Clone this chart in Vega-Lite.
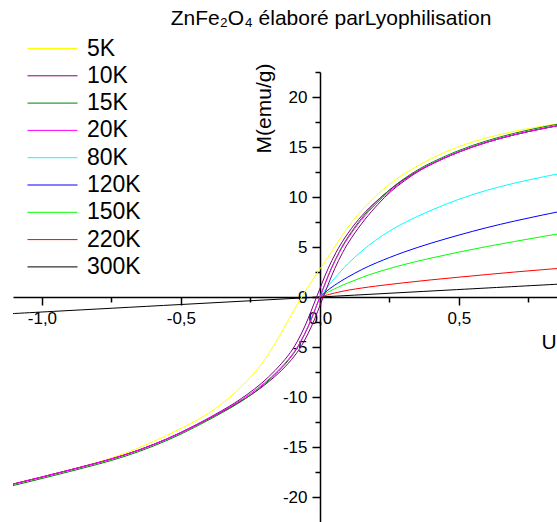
{
  "$schema": "https://vega.github.io/schema/vega-lite/v6.json",
  "width": 544,
  "height": 450,
  "autosize": {"type": "none"},
  "padding": {"left": 13, "top": 72, "right": 0, "bottom": 0},
  "background": "white",
  "config": {"view": {"stroke": null}, "axis": {"grid": false}},
  "title": {"text": "ZnFe₂O₄ élaboré parLyophilisation", "font": "Liberation Sans", "fontSize": 21, "fontWeight": "normal", "color": "black", "frame": "group", "anchor": "middle", "dx": 46, "offset": 8},
  "resolve": {"axis": {"x": "independent", "y": "independent"}},
  "layer": [
    {
      "data": {"values": [
        {"T":"300K","H":-1.25,"M":-1.88},{"T":"300K","H":-1.0,"M":-1.5},{"T":"300K","H":-0.5,"M":-0.75},{"T":"300K","H":0,"M":0},{"T":"300K","H":0.5,"M":0.75},{"T":"300K","H":0.95,"M":1.42},
        {"T":"220K","H":0,"M":0},{"T":"220K","H":0.02,"M":0.16},{"T":"220K","H":0.05,"M":0.38},{"T":"220K","H":0.1,"M":0.7},{"T":"220K","H":0.2,"M":1.1},{"T":"220K","H":0.3,"M":1.42},{"T":"220K","H":0.4,"M":1.72},{"T":"220K","H":0.5,"M":1.98},{"T":"220K","H":0.6,"M":2.25},{"T":"220K","H":0.7,"M":2.5},{"T":"220K","H":0.8,"M":2.73},{"T":"220K","H":0.9,"M":2.95},{"T":"220K","H":0.95,"M":3.05},
        {"T":"150K","H":0,"M":0},{"T":"150K","H":0.02,"M":0.35},{"T":"150K","H":0.05,"M":0.8},{"T":"150K","H":0.1,"M":1.4},{"T":"150K","H":0.15,"M":1.95},{"T":"150K","H":0.2,"M":2.45},{"T":"150K","H":0.3,"M":3.25},{"T":"150K","H":0.4,"M":3.9},{"T":"150K","H":0.5,"M":4.5},{"T":"150K","H":0.6,"M":5.05},{"T":"150K","H":0.7,"M":5.55},{"T":"150K","H":0.8,"M":6.05},{"T":"150K","H":0.9,"M":6.5},{"T":"150K","H":0.95,"M":6.7},
        {"T":"120K","H":0,"M":0},{"T":"120K","H":0.02,"M":0.5},{"T":"120K","H":0.05,"M":1.15},{"T":"120K","H":0.1,"M":2.0},{"T":"120K","H":0.15,"M":2.75},{"T":"120K","H":0.2,"M":3.4},{"T":"120K","H":0.3,"M":4.5},{"T":"120K","H":0.4,"M":5.4},{"T":"120K","H":0.5,"M":6.2},{"T":"120K","H":0.6,"M":6.95},{"T":"120K","H":0.7,"M":7.6},{"T":"120K","H":0.8,"M":8.2},{"T":"120K","H":0.9,"M":8.75},{"T":"120K","H":0.95,"M":9.0},
        {"T":"80K","H":0,"M":0},{"T":"80K","H":0.02,"M":0.75},{"T":"80K","H":0.05,"M":1.8},{"T":"80K","H":0.1,"M":3.35},{"T":"80K","H":0.15,"M":4.6},{"T":"80K","H":0.2,"M":5.7},{"T":"80K","H":0.25,"M":6.6},{"T":"80K","H":0.3,"M":7.4},{"T":"80K","H":0.4,"M":8.7},{"T":"80K","H":0.5,"M":9.8},{"T":"80K","H":0.6,"M":10.7},{"T":"80K","H":0.7,"M":11.4},{"T":"80K","H":0.8,"M":12.0},{"T":"80K","H":0.9,"M":12.55},{"T":"80K","H":0.95,"M":12.8},
        {"T":"5K","H":0.95,"M":17.7},{"T":"5K","H":0.9,"M":17.5},{"T":"5K","H":0.8,"M":17.1},{"T":"5K","H":0.7,"M":16.6},{"T":"5K","H":0.6,"M":15.95},{"T":"5K","H":0.5,"M":15.1},{"T":"5K","H":0.4,"M":13.9},{"T":"5K","H":0.3,"M":12.3},{"T":"5K","H":0.25,"M":11.3},{"T":"5K","H":0.2,"M":10.1},{"T":"5K","H":0.15,"M":8.7},{"T":"5K","H":0.1,"M":7.0},{"T":"5K","H":0.05,"M":4.9},{"T":"5K","H":0.03,"M":4.0},{"T":"5K","H":0,"M":2.8},{"T":"5K","H":-0.025,"M":1.75},{"T":"5K","H":-0.05,"M":0.7},{"T":"5K","H":-0.075,"M":-0.45},{"T":"5K","H":-0.1,"M":-1.65},{"T":"5K","H":-0.125,"M":-2.9},{"T":"5K","H":-0.15,"M":-4.15},{"T":"5K","H":-0.175,"M":-5.3},{"T":"5K","H":-0.2,"M":-6.35},{"T":"5K","H":-0.225,"M":-7.25},{"T":"5K","H":-0.25,"M":-8.05},{"T":"5K","H":-0.3,"M":-9.45},{"T":"5K","H":-0.35,"M":-10.65},{"T":"5K","H":-0.4,"M":-11.65},{"T":"5K","H":-0.45,"M":-12.45},{"T":"5K","H":-0.5,"M":-13.15},{"T":"5K","H":-0.6,"M":-14.5},{"T":"5K","H":-0.7,"M":-15.65},{"T":"5K","H":-0.8,"M":-16.55},{"T":"5K","H":-0.9,"M":-17.3},{"T":"5K","H":-1.0,"M":-18.0},{"T":"5K","H":-1.1,"M":-18.65},{"T":"5K","H":-1.2,"M":-19.25},{"T":"5K","H":-1.25,"M":-19.55},
        {"T":"10K","H":0.95,"M":17.6},{"T":"10K","H":0.9,"M":17.35},{"T":"10K","H":0.8,"M":16.85},{"T":"10K","H":0.7,"M":16.25},{"T":"10K","H":0.6,"M":15.5},{"T":"10K","H":0.5,"M":14.55},{"T":"10K","H":0.398,"M":13.3},{"T":"10K","H":0.348,"M":12.55},{"T":"10K","H":0.295,"M":11.65},{"T":"10K","H":0.245,"M":10.6},{"T":"10K","H":0.191,"M":9.3},{"T":"10K","H":0.138,"M":7.8},{"T":"10K","H":0.088,"M":5.9},{"T":"10K","H":0.058,"M":4.5},{"T":"10K","H":0.028,"M":2.8},{"T":"10K","H":0.008,"M":1.4},{"T":"10K","H":-0.012,"M":0},{"T":"10K","H":-0.032,"M":-1.45},{"T":"10K","H":-0.052,"M":-2.85},{"T":"10K","H":-0.082,"M":-4.55},{"T":"10K","H":-0.112,"M":-5.85},{"T":"10K","H":-0.162,"M":-7.4},{"T":"10K","H":-0.209,"M":-8.65},{"T":"10K","H":-0.259,"M":-9.7},{"T":"10K","H":-0.305,"M":-10.6},{"T":"10K","H":-0.355,"M":-11.4},{"T":"10K","H":-0.402,"M":-12.15},{"T":"10K","H":-0.502,"M":-13.6},{"T":"10K","H":-0.6,"M":-14.8},{"T":"10K","H":-0.7,"M":-15.8},{"T":"10K","H":-0.8,"M":-16.6},{"T":"10K","H":-0.9,"M":-17.3},{"T":"10K","H":-1.0,"M":-18.0},{"T":"10K","H":-1.1,"M":-18.7},{"T":"10K","H":-1.2,"M":-19.3},{"T":"10K","H":-1.25,"M":-19.6},
        {"T":"10K","H":-1.2,"M":-19.3},{"T":"10K","H":-1.1,"M":-18.7},{"T":"10K","H":-1.0,"M":-18.0},{"T":"10K","H":-0.9,"M":-17.3},{"T":"10K","H":-0.8,"M":-16.6},{"T":"10K","H":-0.7,"M":-15.8},{"T":"10K","H":-0.6,"M":-14.8},{"T":"10K","H":-0.498,"M":-13.6},{"T":"10K","H":-0.398,"M":-12.15},{"T":"10K","H":-0.345,"M":-11.4},{"T":"10K","H":-0.295,"M":-10.6},{"T":"10K","H":-0.241,"M":-9.7},{"T":"10K","H":-0.191,"M":-8.65},{"T":"10K","H":-0.138,"M":-7.4},{"T":"10K","H":-0.088,"M":-5.85},{"T":"10K","H":-0.058,"M":-4.55},{"T":"10K","H":-0.028,"M":-2.85},{"T":"10K","H":-0.008,"M":-1.45},{"T":"10K","H":0.012,"M":0},{"T":"10K","H":0.032,"M":1.4},{"T":"10K","H":0.052,"M":2.8},{"T":"10K","H":0.082,"M":4.5},{"T":"10K","H":0.112,"M":5.9},{"T":"10K","H":0.162,"M":7.8},{"T":"10K","H":0.209,"M":9.3},{"T":"10K","H":0.255,"M":10.6},{"T":"10K","H":0.305,"M":11.65},{"T":"10K","H":0.352,"M":12.55},{"T":"10K","H":0.402,"M":13.3},{"T":"10K","H":0.5,"M":14.55},{"T":"10K","H":0.6,"M":15.5},{"T":"10K","H":0.7,"M":16.25},{"T":"10K","H":0.8,"M":16.85},{"T":"10K","H":0.9,"M":17.35},{"T":"10K","H":0.95,"M":17.6},
        {"T":"15K","H":-1.25,"M":-19.75},{"T":"15K","H":-1.2,"M":-19.45},{"T":"15K","H":-1.1,"M":-18.85},{"T":"15K","H":-1.0,"M":-18.15},{"T":"15K","H":-0.9,"M":-17.45},{"T":"15K","H":-0.8,"M":-16.75},{"T":"15K","H":-0.7,"M":-15.95},{"T":"15K","H":-0.6,"M":-14.95},{"T":"15K","H":-0.5,"M":-13.75},{"T":"15K","H":-0.4,"M":-12.3},{"T":"15K","H":-0.35,"M":-11.55},{"T":"15K","H":-0.3,"M":-10.75},{"T":"15K","H":-0.25,"M":-9.85},{"T":"15K","H":-0.2,"M":-8.75},{"T":"15K","H":-0.15,"M":-7.5},{"T":"15K","H":-0.1,"M":-5.95},{"T":"15K","H":-0.07,"M":-4.6},{"T":"15K","H":-0.04,"M":-2.9},{"T":"15K","H":-0.02,"M":-1.45},{"T":"15K","H":0,"M":0},{"T":"15K","H":0.02,"M":1.45},{"T":"15K","H":0.04,"M":2.85},{"T":"15K","H":0.07,"M":4.6},{"T":"15K","H":0.1,"M":6.0},{"T":"15K","H":0.15,"M":7.95},{"T":"15K","H":0.2,"M":9.45},{"T":"15K","H":0.25,"M":10.75},{"T":"15K","H":0.3,"M":11.8},{"T":"15K","H":0.35,"M":12.7},{"T":"15K","H":0.4,"M":13.45},{"T":"15K","H":0.5,"M":14.7},{"T":"15K","H":0.6,"M":15.65},{"T":"15K","H":0.7,"M":16.4},{"T":"15K","H":0.8,"M":17.0},{"T":"15K","H":0.9,"M":17.5},{"T":"15K","H":0.95,"M":17.75},
        {"T":"20K","H":-1.25,"M":-19.6},{"T":"20K","H":-1.2,"M":-19.3},{"T":"20K","H":-1.1,"M":-18.7},{"T":"20K","H":-1.0,"M":-18.0},{"T":"20K","H":-0.9,"M":-17.3},{"T":"20K","H":-0.8,"M":-16.6},{"T":"20K","H":-0.7,"M":-15.8},{"T":"20K","H":-0.6,"M":-14.8},{"T":"20K","H":-0.5,"M":-13.6},{"T":"20K","H":-0.4,"M":-12.15},{"T":"20K","H":-0.35,"M":-11.4},{"T":"20K","H":-0.3,"M":-10.6},{"T":"20K","H":-0.25,"M":-9.7},{"T":"20K","H":-0.2,"M":-8.65},{"T":"20K","H":-0.15,"M":-7.4},{"T":"20K","H":-0.1,"M":-5.85},{"T":"20K","H":-0.07,"M":-4.55},{"T":"20K","H":-0.04,"M":-2.85},{"T":"20K","H":-0.02,"M":-1.45},{"T":"20K","H":0,"M":0},{"T":"20K","H":0.02,"M":1.4},{"T":"20K","H":0.04,"M":2.8},{"T":"20K","H":0.07,"M":4.5},{"T":"20K","H":0.1,"M":5.9},{"T":"20K","H":0.15,"M":7.8},{"T":"20K","H":0.2,"M":9.3},{"T":"20K","H":0.25,"M":10.6},{"T":"20K","H":0.3,"M":11.65},{"T":"20K","H":0.35,"M":12.55},{"T":"20K","H":0.4,"M":13.3},{"T":"20K","H":0.5,"M":14.55},{"T":"20K","H":0.6,"M":15.5},{"T":"20K","H":0.7,"M":16.25},{"T":"20K","H":0.8,"M":16.85},{"T":"20K","H":0.9,"M":17.35},{"T":"20K","H":0.95,"M":17.6}
      ]},
      "mark": {"type": "line", "clip": true, "interpolate": "basis"},
      "encoding": {
        "x": {"field": "H", "type": "quantitative", "scale": {"domain": [-1.104, 0.853], "nice": false, "zero": false},
          "axis": {"orient": "bottom", "offset": -225, "values": [-1, -0.5, 0, 0.5], "domainColor": "black", "domainWidth": 1.5, "tickColor": "black", "tickWidth": 1.5, "tickSize": 8, "labelFont": "Liberation Sans", "labelFontSize": 17, "labelColor": "black", "labelPadding": 5, "labelFlush": false, "labelOverlap": false, "labelExpr": "(datum.value < 0 ? '-' : '') + replace(format(abs(datum.value), '.1f'), '.', ',')", "title": "U", "titleFont": "Liberation Sans", "titleFontSize": 21, "titleFontWeight": "normal", "titleColor": "black", "titleX": 528, "titleY": 45, "titleAlign": "left", "titleBaseline": "middle", "titleAngle": 0}},
        "y": {"field": "M", "type": "quantitative", "scale": {"domain": [-22.5, 22.5], "nice": false, "zero": false},
          "axis": {"orient": "left", "offset": -307, "values": [-20, -15, -10, -5, 0, 5, 10, 15, 20], "domainColor": "black", "domainWidth": 1.5, "tickColor": "black", "tickWidth": 1.5, "tickSize": 8, "labelFont": "Liberation Sans", "labelFontSize": 17, "labelColor": "black", "labelPadding": 5, "labelFlush": false, "labelOverlap": false, "labelExpr": "(datum.value < 0 ? '-' : '') + format(abs(datum.value), 'd')", "title": "M(emu/g)", "titleFont": "Liberation Sans", "titleFontSize": 21, "titleFontWeight": "normal", "titleColor": "black", "titleX": -56, "titleY": 36, "titleAngle": -90, "titleAlign": "center", "titleBaseline": "middle"}},
        "color": {"field": "T", "type": "nominal",
          "scale": {"domain": ["5K", "10K", "15K", "20K", "80K", "120K", "150K", "220K", "300K"], "range": ["#ffff00", "#800080", "#008000", "#ff00ff", "#00ffff", "#0000ff", "#00ff00", "#ff0000", "#000000"]},
          "legend": {"orient": "none", "legendX": 28, "legendY": -35, "title": null, "symbolType": "M-5,0H5", "symbolSize": 100, "symbolStrokeWidth": 1.5, "labelFont": "Liberation Sans", "labelFontSize": 23, "labelColor": "black", "rowPadding": 3.3, "labelOffset": 23}},
        "strokeWidth": {"field": "T", "type": "nominal",
          "scale": {"domain": ["5K", "10K", "15K", "20K", "80K", "120K", "150K", "220K", "300K"], "range": [1, 1, 1.5, 2.5, 1.5, 1, 1, 1, 1.5]}, "legend": null},
        "order": {"value": null}
      }
    },
    {
      "data": {"values": [{"H": 0, "M": 0}]},
      "mark": {"type": "point", "opacity": 0},
      "encoding": {
        "x": {"field": "H", "type": "quantitative", "scale": {"domain": [-1.104, 0.853], "nice": false, "zero": false},
          "axis": {"orient": "bottom", "offset": -225, "values": [-0.75, -0.25, 0.25, 0.75], "domain": false, "labels": false, "title": null, "tickColor": "black", "tickWidth": 1.5, "tickSize": 5}},
        "y": {"field": "M", "type": "quantitative", "scale": {"domain": [-22.5, 22.5], "nice": false, "zero": false},
          "axis": {"orient": "left", "offset": -307, "values": [-17.5, -12.5, -7.5, -2.5, 2.5, 7.5, 12.5, 17.5, 22.5], "domain": false, "labels": false, "title": null, "tickColor": "black", "tickWidth": 1.5, "tickSize": 5}}
      }
    }
  ]
}
